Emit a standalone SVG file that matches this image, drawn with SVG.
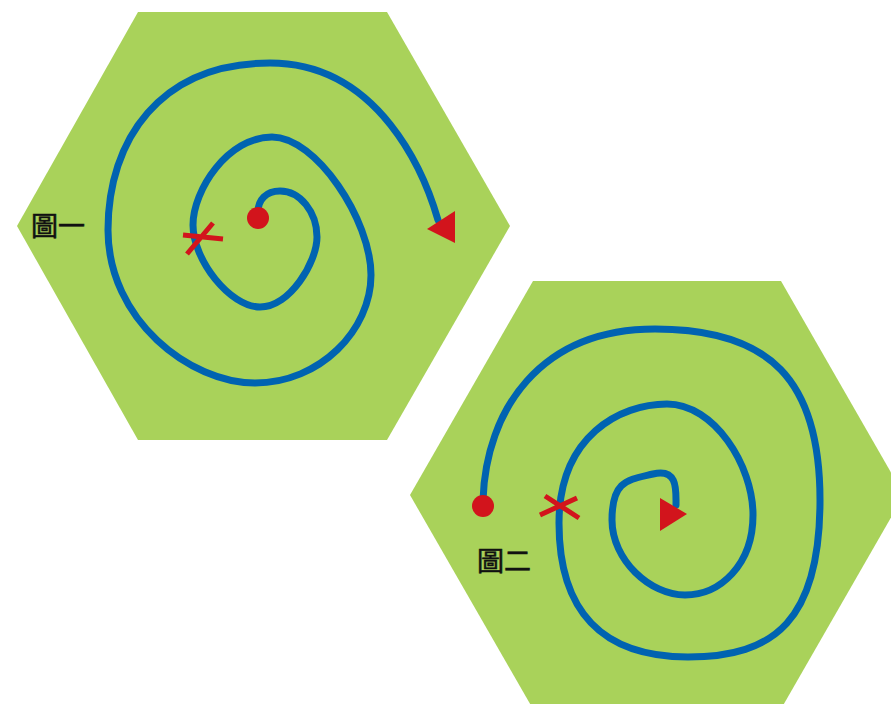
<svg xmlns="http://www.w3.org/2000/svg" width="891" height="704" viewBox="0 0 891 704">
<style>
.hex{fill:#A9D25A}
.spiral{fill:none;stroke:#0063B1;stroke-width:7;stroke-linecap:round;stroke-linejoin:round}
.red{fill:#D2141C}
.cross{stroke:#D2141C;stroke-width:5;fill:none}
.lbl{font-family:"Noto Sans CJK TC","Noto Sans CJK SC",sans-serif;font-size:27px;fill:#111;stroke:#111;stroke-width:0.6}
</style>
<rect width="891" height="704" fill="#fff"/>
<g id="hex1">
<polygon class="hex" points="17,226 138,12 387,12 510,226 387,440 138,440"/>
<text class="lbl" x="31" y="236">圖一</text>
</g>
<g id="hex2">
<polygon class="hex" points="410,495 533,281 781,281 904,495 781,709 533,709"/>
<text class="lbl" x="477" y="571">圖二</text>
</g>
<g id="connectors">
<path class="spiral" d="M258,212 C258,200 266,191 280,191 C300,191 317,212 317,237 S290,307 260,307 S193,260 193,225 S228,137 272,137 S371,220 371,275 S320,383 255,383 S108,320 108,230 S160,63 270,63 S425,175 438,220"/>
<path class="spiral" d="M483,500 C486,410 540,329 655,329 S820,380 820,500 S775,657 688,657 S559,610 559,523 S620,404 667,404 S753,465 753,515 S720,595 685,595 S612,560 612,520 S628,480 653,474 S676,490 676,505"/>
</g>
<g id="start1"><circle class="red" cx="258" cy="218" r="11"/></g>
<g id="end1"><polygon class="red" points="455,211 427,229 455,243"/></g>
<g id="cross1"><path class="cross" d="M183,235 L223,239 M187,254 L213,223"/></g>
<g id="start2"><circle class="red" cx="483" cy="506" r="11"/></g>
<g id="end2"><polygon class="red" points="660,498 687,514 660,531"/></g>
<g id="cross2"><path class="cross" d="M540,515 L577,498 M545,496 L579,518"/></g>
</svg>
